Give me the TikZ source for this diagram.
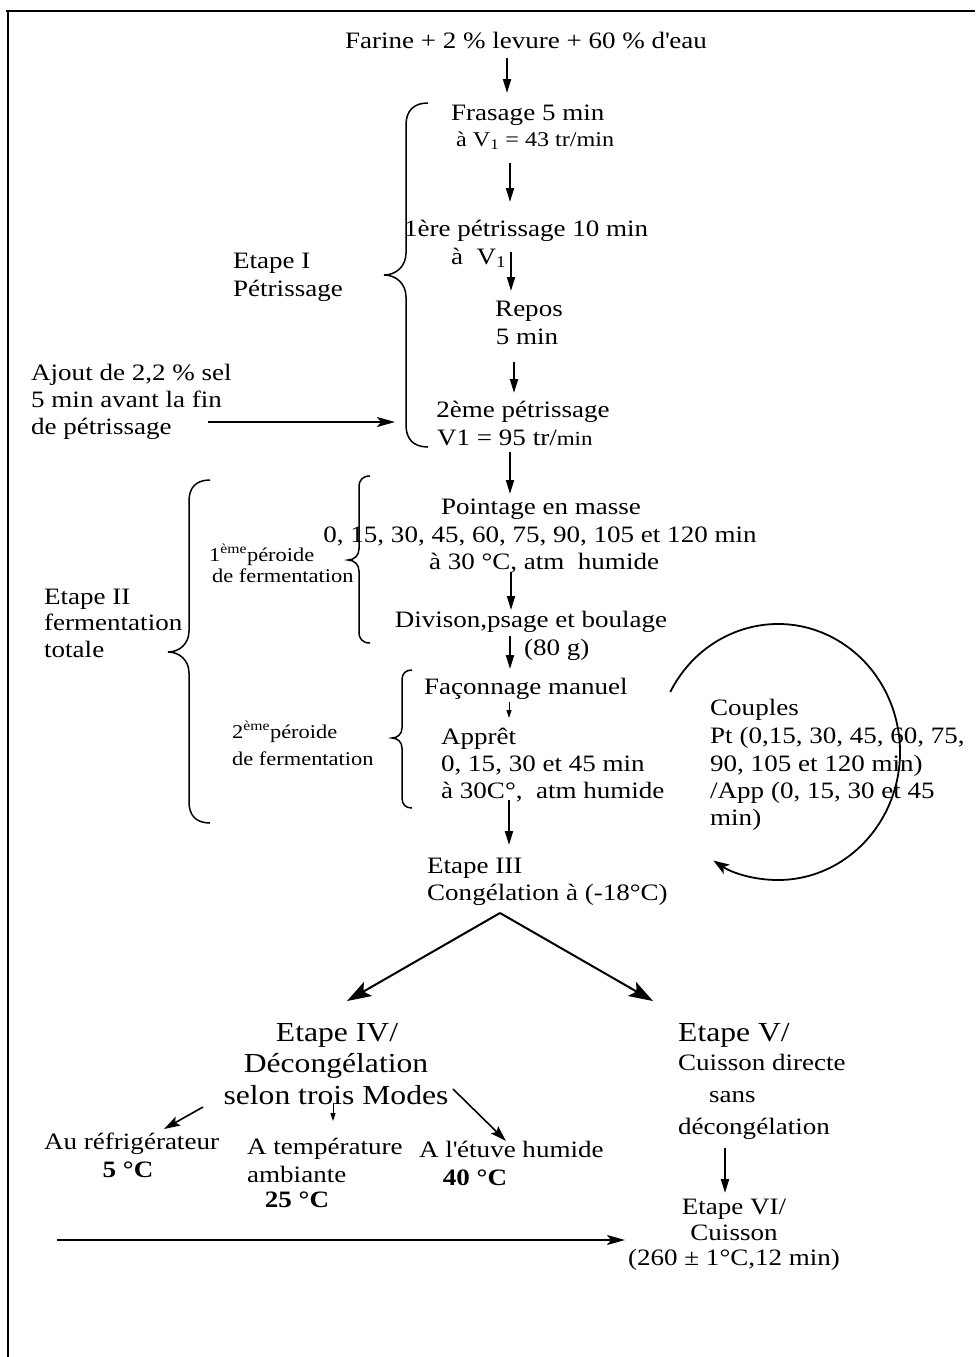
\documentclass[tikz,border=0pt]{standalone}
\usepackage{fontspec}
\setmainfont{Liberation Serif}[FakeStretch=1.15]
\usetikzlibrary{arrows.meta}

\newcommand\fmain{\fontsize{23.5}{27.5}\selectfont}
\newcommand\fsmall{\fontsize{19.5}{22}\selectfont}
\newcommand\fmid{\fontsize{21}{25}\selectfont}
\newcommand\fbig{\fontsize{27.5}{32}\selectfont}

% left curly brace: x of the stem, top y, tip y, bottom y, amplitude
\newcommand\curlybrace[5]{%
  \draw[bracepath] ({#1+#5},#2) .. controls ({#1+0.35*#5},#2) and (#1,{#2+0.35*#5}) .. (#1,{#2+#5})
    -- (#1,{#3-#5}) .. controls (#1,{#3-0.4*#5}) and ({#1-0.45*#5},#3) .. ({#1-#5},#3)
    .. controls ({#1-0.45*#5},#3) and (#1,{#3+0.4*#5}) .. (#1,{#3+#5})
    -- (#1,{#4-#5}) .. controls (#1,{#4-0.35*#5}) and ({#1+0.35*#5},#4) .. ({#1+#5},#4);}

\begin{document}
\begin{tikzpicture}[x=1pt,y=-1pt,
  txt/.style={inner sep=0pt, font=\fmain},
  lbl/.style={txt, anchor=base west},
  ctr/.style={txt, anchor=base},
  flow/.style={line width=2pt, -{Triangle[length=14pt,width=8pt]}},
  thinflow/.style={line width=1pt, -{Triangle[length=8pt,width=5pt]}},
  split/.style={line width=2pt, -{Stealth[length=24pt,width=16pt,inset=5pt]}},
  mode/.style={line width=1.6pt, -{Stealth[length=16pt,width=10pt,inset=3pt]}},
  side/.style={line width=2pt, -{Stealth[length=18pt,width=10pt,inset=4pt]}},
  loop/.style={line width=1.8pt, -{Stealth[length=16pt,width=11pt,inset=4pt]}},
  bracepath/.style={line width=1.5pt},
  frame/.style={line width=2.4pt}]
\useasboundingbox (0,0) rectangle (975,1357);

% frame
\draw[frame] (6,11) -- (975,11);
\draw[frame] (8,10) -- (8,1357);

% ---- Etape I : kneading
\node[ctr] (farine) at (526,48) {Farine + 2 \% levure + 60 \% d\textquotesingle eau};
\node[lbl] (fras1) at (451,120) {Frasage 5 min};
\node[lbl, font=\fmid] (fras2) at (456,146) {à V\textsubscript{1} = 43 tr/min};
\node[lbl] (pet1a) at (404,236) {1ère pétrissage 10 min};
\node[lbl] (pet1b) at (451,264) {à\ \ V\textsubscript{1}};
\node[ctr] (repos1) at (529,316) {Repos};
\node[ctr] (repos2) at (527,344) {5 min};
\node[ctr] (pet2a) at (523,417) {2ème pétrissage};
\node[lbl] (pet2b) at (437,445) {V1 = 95 tr/{\fontsize{20}{24}\selectfont min}};

\node[lbl] (etI1) at (233,268) {Etape I};
\node[lbl] (etI2) at (233,296) {Pétrissage};
\curlybrace{406}{103}{275}{447}{22}

\node[lbl] (ajout1) at (31,380) {Ajout de 2,2 \% sel};
\node[lbl] (ajout2) at (31,407) {5 min avant la fin};
\node[lbl] (ajout3) at (31,434) {de pétrissage};

\coordinate (a1s) at (507,58);  \coordinate (a1e) at (507,93);
\coordinate (a2s) at (510,163); \coordinate (a2e) at (510,202);
\coordinate (a3s) at (511,252); \coordinate (a3e) at (511,291);
\coordinate (a4s) at (514,362); \coordinate (a4e) at (514,393);
\coordinate (a5s) at (510,452); \coordinate (a5e) at (510,494);
\coordinate (salt) at (208,422); \coordinate (saltin) at (395,422);
\draw[flow] (a1s) -- (a1e);
\draw[flow] (a2s) -- (a2e);
\draw[flow] (a3s) -- (a3e);
\draw[flow] (a4s) -- (a4e);
\draw[flow] (a5s) -- (a5e);
\draw[side] (salt) -- (saltin);

% ---- Etape II : fermentation
\node[lbl] (et21) at (44,604) {Etape II};
\node[lbl] (et22) at (44,630) {fermentation};
\node[lbl] (et23) at (44,657) {totale};
\curlybrace{189}{480}{652}{823}{21}

\node[lbl, font=\fsmall] (per1a) at (209,561) {1\textsuperscript{ème}péroide};
\node[lbl, font=\fsmall] (per1b) at (212,582) {de fermentation};
\curlybrace{359}{476}{560}{643}{11}

\node[ctr] (pt1) at (541,514) {Pointage en masse};
\node[ctr] (pt2) at (540,542) {0, 15, 30, 45, 60, 75, 90, 105 et 120 min};
\node[ctr] (pt3) at (544,569) {à 30 °C, atm\ \ humide};
\node[ctr] (div1) at (531,627) {Divison,psage et boulage};
\node[lbl] (div2) at (524,655) {(80 g)};

\node[lbl, font=\fsmall] (per2a) at (232,738) {2\textsuperscript{ème}péroide};
\node[lbl, font=\fsmall] (per2b) at (232,765) {de fermentation};
\curlybrace{402}{670}{738}{808}{10}

\node[lbl] (fac) at (424,694) {Façonnage manuel};
\node[lbl] (app1) at (441,744) {Apprêt};
\node[lbl] (app2) at (441,771) {0, 15, 30 et 45 min};
\node[lbl] (app3) at (441,798) {à 30C°,\ \ atm humide};

\coordinate (a6s) at (511,572); \coordinate (a6e) at (511,610);
\coordinate (a7s) at (510,636); \coordinate (a7e) at (510,669);
\coordinate (a8s) at (509,702); \coordinate (a8e) at (509,718);
\coordinate (a9s) at (509,800); \coordinate (a9e) at (509,845);
\draw[flow] (a6s) -- (a6e);
\draw[flow] (a7s) -- (a7e);
\draw[thinflow] (a8s) -- (a8e);
\draw[flow] (a9s) -- (a9e);

% pairs of proofing times, looping arrow
\node[lbl] (cp1) at (710,715) {Couples};
\node[lbl] (cp2) at (710,743) {Pt (0,15, 30, 45, 60, 75,};
\node[lbl] (cp3) at (710,771) {90, 105 et 120 min)};
\node[lbl] (cp4) at (710,798) {/App (0, 15, 30 et 45};
\node[lbl] (cp5) at (710,825) {min)};
\coordinate (loopstart) at ({778+122*cos(208)},{752+128*sin(208)});
\draw[loop] (loopstart) arc[start angle=208, end angle=482, x radius=122, y radius=128];

% ---- Etape III : freezing
\node[lbl] (et31) at (427,873) {Etape III};
\node[lbl] (et32) at (427,900) {Congélation à (-18°C)};
\coordinate (apex) at (500,913);
\coordinate (toIV) at (347,1001);
\coordinate (toV) at (653,1001);
\draw[split] (apex) -- (toIV);
\draw[split] (apex) -- (toV);

% ---- Etape IV : thawing
\node[ctr, font=\fbig] (et4a) at (337,1041) {Etape IV/};
\node[ctr, font=\fbig] (et4b) at (336,1072) {Décongélation};
\node[ctr, font=\fbig] (et4c) at (336,1104) {selon trois Modes};

\node[lbl] (m1a) at (44,1149) {Au réfrigérateur};
\node[ctr] (m1b) at (128,1177) {\bfseries 5 °C};
\node[lbl] (m2a) at (247,1154) {A température};
\node[lbl] (m2b) at (247,1182) {ambiante};
\node[ctr] (m2c) at (297,1207) {\bfseries 25 °C};
\node[lbl] (m3a) at (419,1157) {A l\textquotesingle étuve humide};
\node[ctr] (m3b) at (475,1185) {\bfseries 40 °C};

\coordinate (m1s) at (203,1107); \coordinate (m1e) at (164,1129);
\coordinate (m2s) at (333,1103); \coordinate (m2e) at (333,1121);
\coordinate (m3s) at (453,1089); \coordinate (m3e) at (506,1141);
\draw[mode] (m1s) -- (m1e);
\draw[thinflow] (m2s) -- (m2e);
\draw[mode] (m3s) -- (m3e);

% ---- Etape V : direct baking
\node[lbl, font=\fbig] (et5a) at (678,1041) {Etape V/};
\node[lbl] (et5b) at (678,1070) {Cuisson directe};
\node[lbl] (et5c) at (709,1102) {sans};
\node[lbl] (et5d) at (678,1134) {décongélation};
\coordinate (a10s) at (725,1148); \coordinate (a10e) at (725,1193);
\draw[flow] (a10s) -- (a10e);

% ---- Etape VI : baking
\node[ctr] (et6a) at (734,1214) {Etape VI/};
\node[ctr] (et6b) at (734,1240) {Cuisson};
\node[ctr] (et6c) at (734,1265) {(260 ± 1°C,12 min)};
\coordinate (thawed) at (57,1240); \coordinate (oven) at (625,1240);
\draw[side] (thawed) -- (oven);
\end{tikzpicture}
\end{document}
